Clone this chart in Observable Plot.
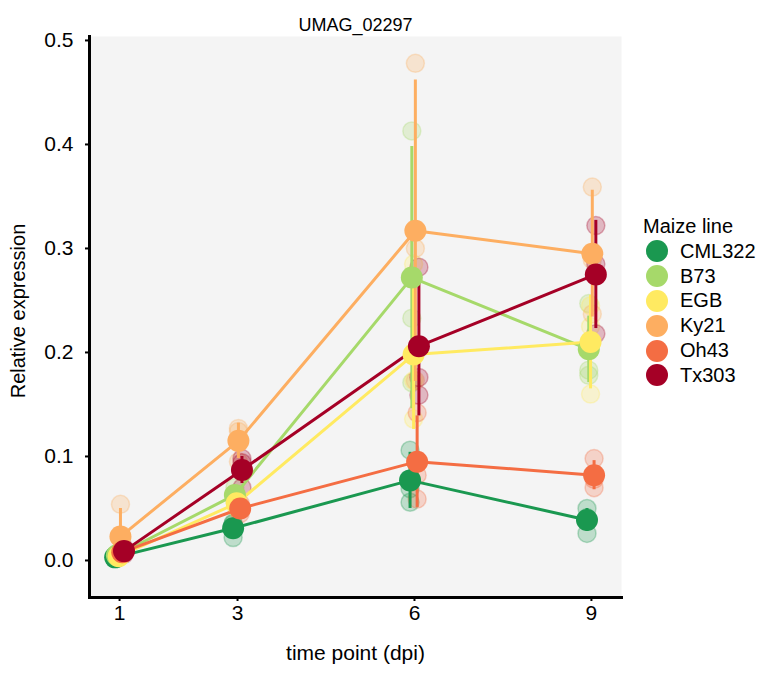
<!DOCTYPE html>
<html>
<head>
<meta charset="utf-8">
<script src="https://cdn.jsdelivr.net/npm/d3@7"></script>
<script src="https://cdn.jsdelivr.net/npm/@observablehq/plot@0.6"></script>
<style>
  body { margin: 0; background: #fff; font-family: "Liberation Sans", Arial, sans-serif; }
  #wrap { position: relative; width: 765px; height: 675px; }
  #legend { position: absolute; left: 646px; top: 214px; font-size: 20px; color: #000; }
  #legend .title { height: 25px; line-height: 25px; margin-left: -3px; }
  #legend .item { height: 24.8px; display: flex; align-items: center; }
  #legend .sw { width: 22px; height: 22px; border-radius: 50%; margin-right: 12px; }
</style>
</head>
<body>
<div id="wrap"><div id="legend"></div></div>
<script>
const lines = ["CML322", "B73", "EGB", "Ky21", "Oh43", "Tx303"];
const colors = ["#1A9850", "#A6D96A", "#FFEA61", "#FDAE61", "#F46D43", "#A50026"];
const times = [1, 3, 6, 9];
const yTicks = [0, 0.1, 0.2, 0.3, 0.4, 0.5];

// mean relative expression per time point
const meanCML322 = [0.003, 0.031, 0.077, 0.039];
const meanB73    = [0.005, 0.063, 0.272, 0.203];
const meanEGB    = [0.004, 0.055, 0.198, 0.210];
const meanKy21   = [0.023, 0.115, 0.317, 0.295];
const meanOh43   = [0.008, 0.050, 0.095, 0.082];
const meanTx303  = [0.009, 0.087, 0.206, 0.275];

// error bar half-widths (sd)
const sdCML322 = [0.001, 0.006, 0.027, 0.011];
const sdB73    = [0.001, 0.006, 0.126, 0.032];
const sdEGB    = [0.001, 0.005, 0.072, 0.045];
const sdKy21   = [0.027, 0.017, 0.145, 0.061];
const sdOh43   = [0.002, 0.005, 0.044, 0.014];
const sdTx303  = [0.003, 0.013, 0.067, 0.052];

// biological replicates
const repCML322 = [[0.002, 0.004, 0.003], [0.022, 0.035, 0.036], [0.106, 0.056, 0.069], [0.050, 0.026, 0.041]];
const repB73    = [[0.004, 0.006, 0.005], [0.058, 0.070, 0.061], [0.413, 0.233, 0.171], [0.247, 0.183, 0.178]];
const repEGB    = [[0.003, 0.005, 0.004], [0.050, 0.060, 0.055], [0.285, 0.136, 0.173], [0.245, 0.225, 0.160]];
const repKy21   = [[0.054, 0.008, 0.007], [0.127, 0.124, 0.095], [0.478, 0.300, 0.173], [0.359, 0.289, 0.237]];
const repOh43   = [[0.006, 0.010, 0.008], [0.045, 0.055, 0.050], [0.142, 0.082, 0.059], [0.098, 0.070, 0.078]];
const repTx303  = [[0.012, 0.006, 0.009], [0.094, 0.098, 0.070], [0.282, 0.176, 0.159], [0.322, 0.285, 0.218]];

const meansBy = [meanCML322, meanB73, meanEGB, meanKy21, meanOh43, meanTx303];
const sdBy = [sdCML322, sdB73, sdEGB, sdKy21, sdOh43, sdTx303];
const repsBy = [repCML322, repB73, repEGB, repKy21, repOh43, repTx303];

const dodgeStep = 0.03; // position_dodge
const summary = [];
const reps = [];
lines.forEach((line, i) => {
  const off = (i - (lines.length - 1) / 2) * dodgeStep;
  times.forEach((t, j) => {
    const m = meansBy[i][j], s = sdBy[i][j];
    summary.push({line, time: t, x: t + off, mean: m, lo: m - s, hi: m + s});
    repsBy[i][j].forEach(v => reps.push({line, time: t, x: t + off, value: v}));
  });
});

const font = "Liberation Sans, Arial, sans-serif";
const chart = Plot.plot({
  width: 765,
  height: 675,
  marginLeft: 89,
  marginRight: 144,
  marginTop: 36,
  marginBottom: 78,
  style: {fontFamily: font, fontSize: "20px", background: "white", color: "black"},
  x: {domain: [0.49, 9.51]},
  y: {domain: [-0.0356, 0.5038]},
  color: {domain: lines, range: colors},
  marks: [
    Plot.frame({fill: "#F4F4F4", stroke: null}),
    Plot.dot(reps, {x: "x", y: "value", r: 9, fill: "line", fillOpacity: 0.25, stroke: "line", strokeOpacity: 0.3, strokeWidth: 1.5}),
    Plot.line(summary, {x: "x", y: "mean", z: "line", stroke: "line", strokeWidth: 3}),
    Plot.ruleX(summary, {x: "x", y1: "lo", y2: "hi", stroke: "line", strokeWidth: 3}),
    Plot.dot(summary, {x: "x", y: "mean", r: 11, fill: "line"}),
    Plot.axisY({ticks: yTicks, tickFormat: d3.format(".1f"), tickSize: 4, tickPadding: 12, strokeWidth: 2, fontSize: 21, label: null}),
    Plot.axisX({ticks: times, tickFormat: d => String(d), tickSize: 4, tickPadding: 4, strokeWidth: 2, fontSize: 21, label: null}),
    Plot.frame({anchor: "left", stroke: "black", strokeWidth: 3}),
    Plot.frame({anchor: "bottom", stroke: "black", strokeWidth: 3}),
    Plot.text(["Relative expression"], {frameAnchor: "middle", textAnchor: "middle", rotate: -90, dx: -337, dy: -6, fontSize: 20, fill: "black"}),
    Plot.text(["time point (dpi)"], {frameAnchor: "bottom", dy: 62, fontSize: 21, fill: "black"}),
    Plot.text(["UMAG_02297"], {frameAnchor: "top", dy: -18, fontSize: 18, fill: "black"})
  ]
});
const wrap = document.getElementById("wrap");
wrap.insertBefore(chart, wrap.firstChild);

const legend = document.getElementById("legend");
const lt = document.createElement("div");
lt.className = "title";
lt.textContent = "Maize line";
legend.appendChild(lt);
lines.forEach((l, i) => {
  const item = document.createElement("div");
  item.className = "item";
  const sw = document.createElement("div");
  sw.className = "sw";
  sw.style.background = colors[i];
  const tx = document.createElement("span");
  tx.textContent = l;
  item.appendChild(sw);
  item.appendChild(tx);
  legend.appendChild(item);
});
</script>
</body>
</html>
